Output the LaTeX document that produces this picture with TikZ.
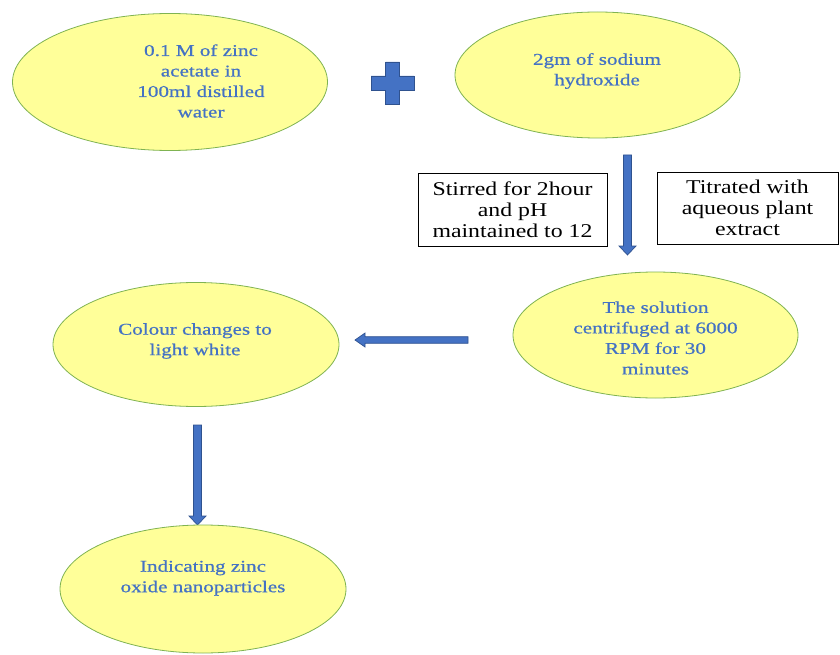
\documentclass[tikz,border=0pt]{standalone}
\usepackage{fontspec}
\setmainfont{Liberation Serif}
\newfontfamily\blobfont[FakeStretch=1.28, FakeBold=0.6]{Liberation Serif}
\newfontfamily\notefont[FakeStretch=1.22]{Liberation Serif}
\usetikzlibrary{shapes.geometric, positioning, calc}
\definecolor{blobfill}{HTML}{FFFF99}
\definecolor{blobedge}{HTML}{7FB352}
\definecolor{inkblue}{HTML}{4472C4}
\definecolor{arrowedge}{HTML}{2F528F}

\begin{document}
\begin{tikzpicture}[x=1pt, y=-1pt,
  blob/.style={ellipse, draw=blobedge, line width=0.8pt, fill=blobfill, inner sep=0pt},
  blobtxt/.style={align=center, text=inkblue, inner sep=0pt, font=\blobfont\fontsize{16.5}{20.5}\selectfont},
  notebox/.style={draw=black, line width=0.9pt, align=center, inner sep=0pt, font=\notefont\fontsize{19.5}{20.8}\selectfont},
  blockfill/.style={fill=inkblue, draw=arrowedge, line width=0.7pt, line join=miter}]
\useasboundingbox (0,0) rectangle (840,655);
\node[blob, minimum width=315, minimum height=137] (acetate) at (170,82) {};
\node[blobtxt] (acetatetxt) at (201,81) {0.1 M of zinc\\acetate in\\100ml distilled\\water};
\node[blob, minimum width=285, minimum height=126] (hydroxide) at (597.5,75) {};
\node[blobtxt] (hydroxidetxt) at (597,71) {2gm of sodium\\hydroxide};
\coordinate (plus) at (392.5,83);
\filldraw[blockfill, shift={(plus)}] (-7,-21) -- (7,-21) -- (7,-7) -- (21.5,-7) -- (21.5,7) -- (7,7) -- (7,21) -- (-7,21) -- (-7,7) -- (-21.5,7) -- (-21.5,-7) -- (-7,-7) -- cycle;
\coordinate (mixtop) at (627.5,155);
\filldraw[blockfill, shift={(mixtop)}] (-4,0) -- (-4,91) -- (-8.5,91) -- (0,100) -- (8.5,91) -- (4,91) -- (4,0) -- cycle;
\node[notebox, minimum width=189, minimum height=73] (stirred) at (512.5,209.5) {Stirred for 2hour\\and pH\\maintained to 12};
\node[notebox, minimum width=181, minimum height=72] (titrated) at (747.5,208) {Titrated with\\aqueous plant\\extract};
\node[blob, minimum width=285, minimum height=126] (centrifuge) at (655.5,335) {};
\node[blobtxt] (centrifugetxt) at (655.5,338) {The solution\\centrifuged at 6000\\RPM for 30\\minutes};
\coordinate (sidetip) at (355,340);
\filldraw[blockfill, shift={(sidetip)}] (0,0) -- (10,-7) -- (10,-3.3) -- (113,-3.3) -- (113,3.3) -- (10,3.3) -- (10,7) -- cycle;
\node[blob, minimum width=286, minimum height=124] (colour) at (196,344.5) {};
\node[blobtxt] (colourtxt) at (195,341) {Colour changes to\\light white};
\coordinate (downtop) at (197.5,425);
\filldraw[blockfill, shift={(downtop)}] (-4,0) -- (-4,91) -- (-8.5,91) -- (0,100) -- (8.5,91) -- (4,91) -- (4,0) -- cycle;
\node[blob, minimum width=286, minimum height=128] (zno) at (203,589) {};
\node[blobtxt] (znotxt) at (203,578) {Indicating zinc\\oxide nanoparticles};
\end{tikzpicture}
\end{document}
